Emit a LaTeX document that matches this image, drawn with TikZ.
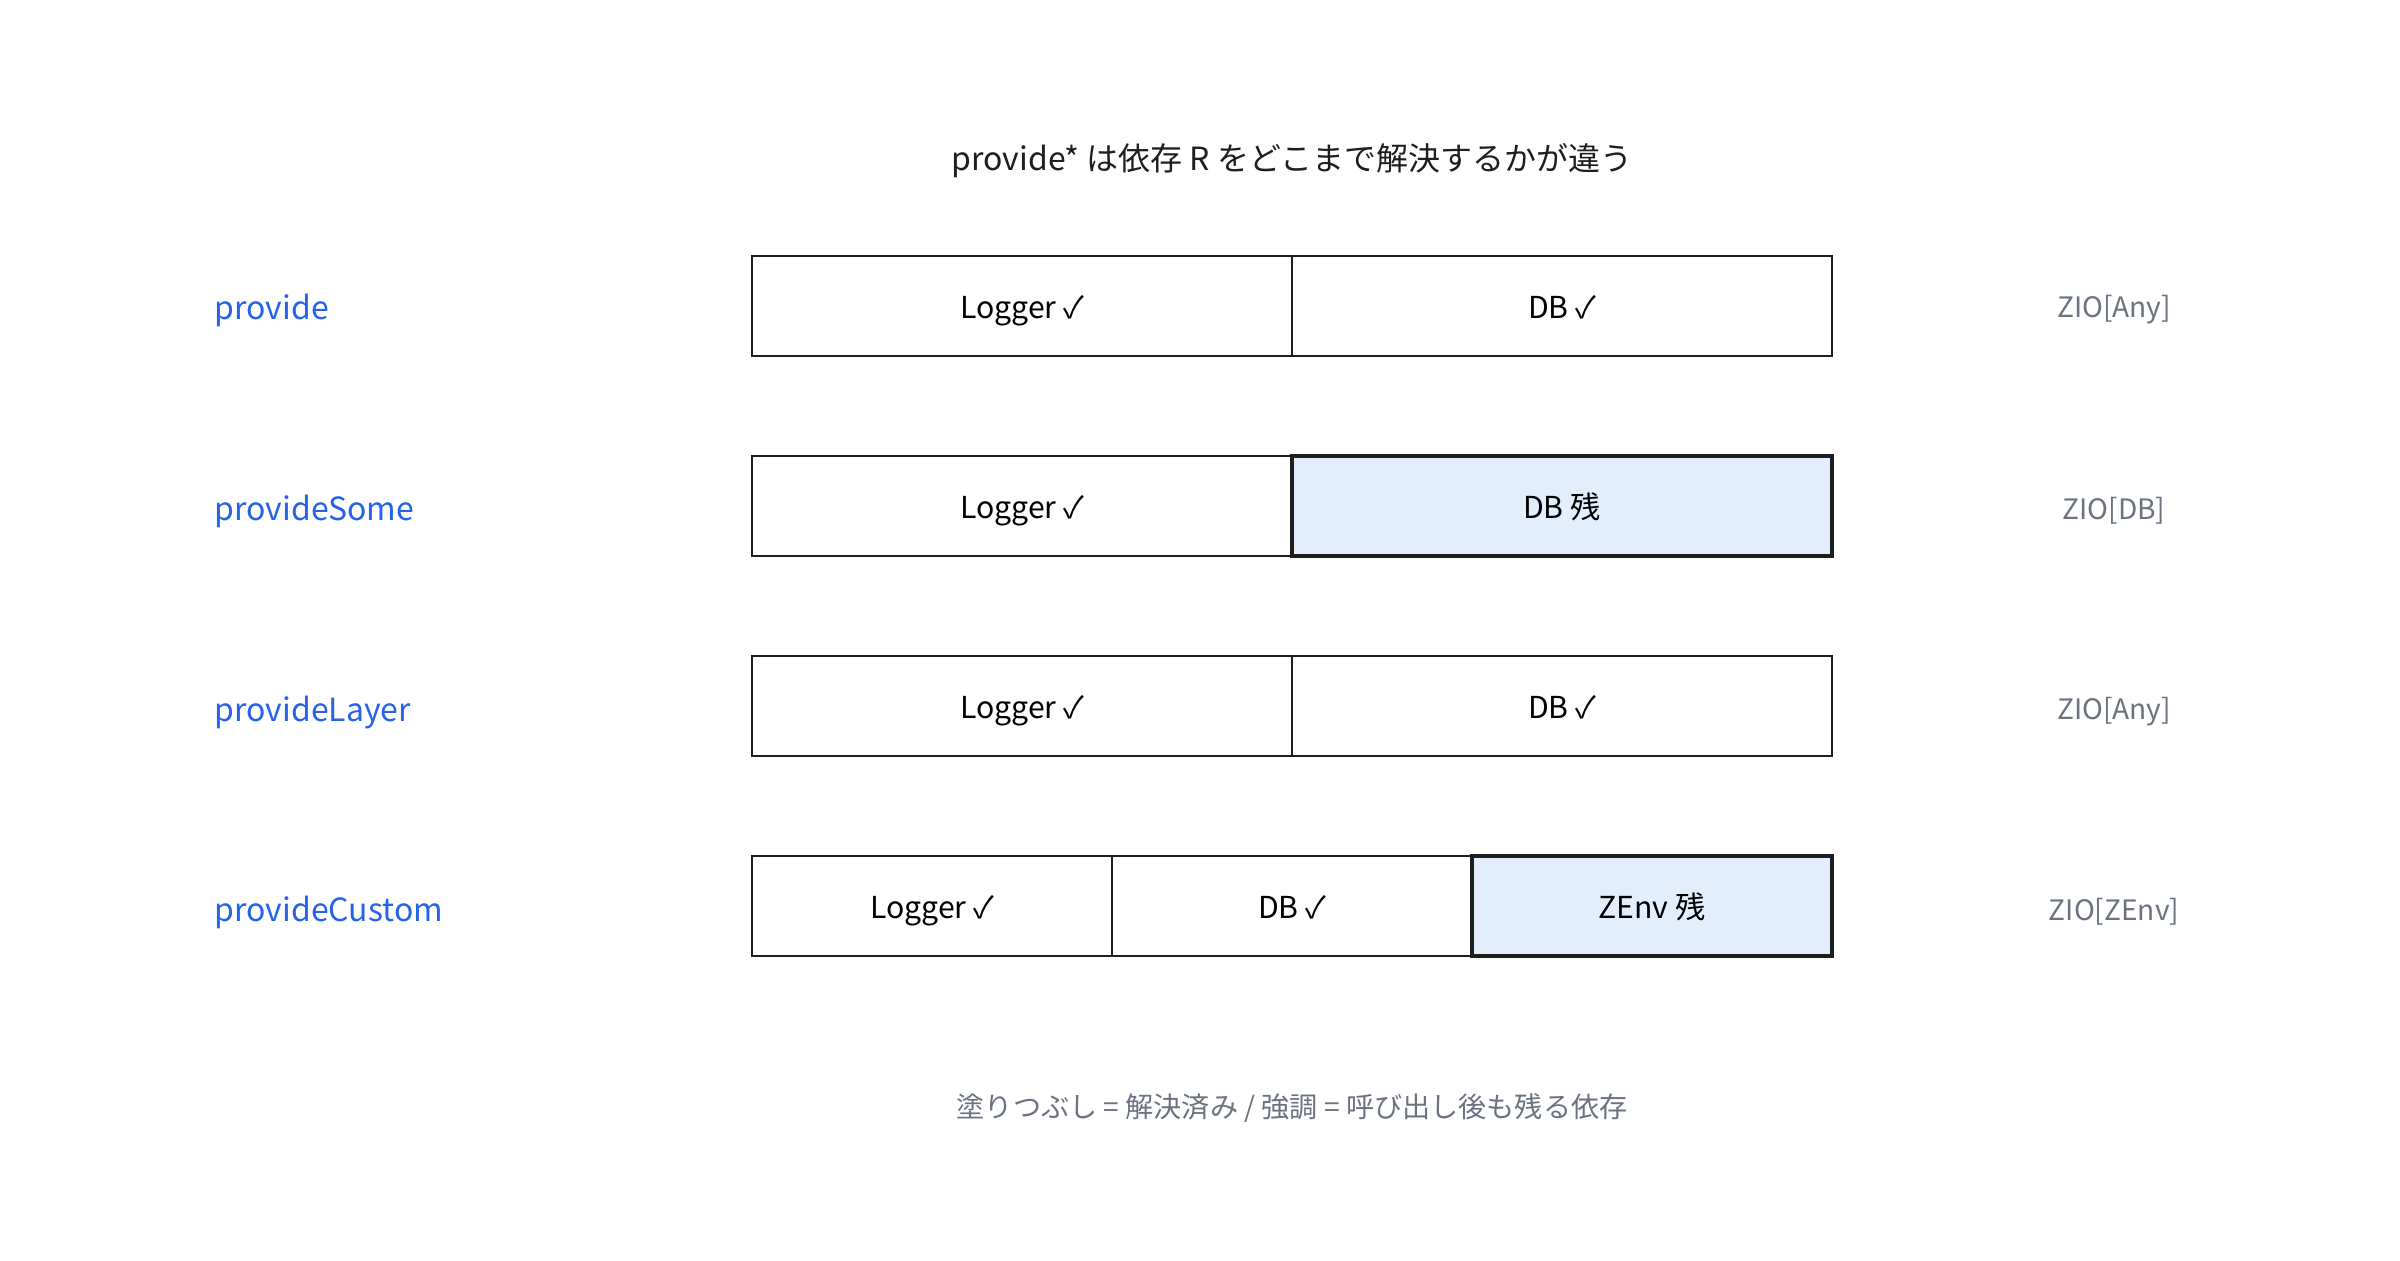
\documentclass[tikz,border=0pt]{standalone}
\usepackage{fontspec}
\setmainfont{Noto Sans CJK JP}
\usetikzlibrary{positioning}

\definecolor{callblue}{HTML}{2563EB}
\definecolor{typegray}{HTML}{6B7280}
\definecolor{inkdark}{HTML}{1E1E1E}
\definecolor{leftfill}{HTML}{E3EEFD}

\newcommand{\ok}{\hspace{0.22em}✓}

\tikzset{
  cell/.style={draw=inkdark, line width=0.6pt, outer sep=0pt, inner sep=0pt,
    minimum width=5.40cm, minimum height=1cm, text height=0.85em, text depth=0.15em,
    font=\fontsize{8.6}{11}\selectfont},
  third/.style={cell, minimum width=3.60cm},
  remains/.style={fill=leftfill, line width=1.3pt},
  callname/.style={anchor=west, inner sep=0pt, text=callblue, font=\fontsize{9.1}{11}\selectfont},
  ziotype/.style={text=typegray, font=\fontsize{8}{10}\selectfont}
}

\begin{document}
\begin{tikzpicture}
  \useasboundingbox (0,0) rectangle (24,-12.6);

  \node[font=\fontsize{9.1}{12}\selectfont, text=inkdark] (title) at (12.92,-1.61)
    {provide* は依存 R をどこまで解決するかが違う};

  % provide
  \node[callname] (n1) at (2.14,-3.1) {provide};
  \node[cell] (r1a) at (10.22,-3.06) {Logger\ok};
  \node[cell, right=0pt of r1a] (r1b) {DB\ok};
  \node[ziotype] (t1) at (21.14,-3.1) {ZIO[Any]};

  % provideSome
  \node[callname] (n2) at (2.14,-5.11) {provideSome};
  \node[cell] (r2a) at (10.22,-5.06) {Logger\ok};
  \node[cell, remains, right=0pt of r2a] (r2b) {DB 残};
  \node[ziotype] (t2) at (21.14,-5.11) {ZIO[DB]};

  % provideLayer
  \node[callname] (n3) at (2.14,-7.12) {provideLayer};
  \node[cell] (r3a) at (10.22,-7.06) {Logger\ok};
  \node[cell, right=0pt of r3a] (r3b) {DB\ok};
  \node[ziotype] (t3) at (21.14,-7.12) {ZIO[Any]};

  % provideCustom
  \node[callname] (n4) at (2.14,-9.12) {provideCustom};
  \node[third] (r4a) at (9.32,-9.06) {Logger\ok};
  \node[third, right=0pt of r4a] (r4b) {DB\ok};
  \node[third, remains, right=0pt of r4b] (r4c) {ZEnv 残};
  \node[ziotype] (t4) at (21.14,-9.12) {ZIO[ZEnv]};

  \node[text=typegray, font=\fontsize{8}{10}\selectfont] (note) at (12.92,-11.08)
    {塗りつぶし = 解決済み / 強調 = 呼び出し後も残る依存};
\end{tikzpicture}
\end{document}
